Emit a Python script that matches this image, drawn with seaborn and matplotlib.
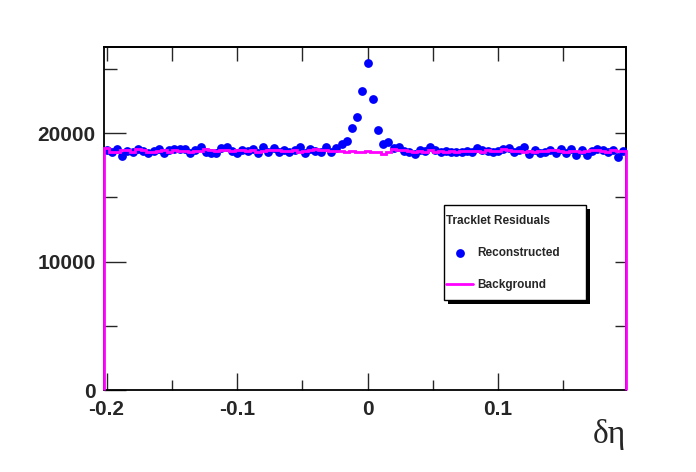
import numpy as np
import matplotlib
matplotlib.use('Agg')
import matplotlib.pyplot as plt
import matplotlib.patches as mpatches
import seaborn as sns

# histogram binning (delta eta)
n_bins = 100
eta_lo, eta_hi = -0.202, 0.198

# counts per bin
reconstructed = [
    18650, 18550, 18760, 18210, 18600, 18550, 18750, 18600, 18420, 18600,
    18750, 18470, 18680, 18750, 18750, 18750, 18420, 18680, 18880, 18550,
    18470, 18470, 18810, 18880, 18600, 18470, 18680, 18600, 18750, 18420,
    18880, 18550, 18810, 18550, 18680, 18550, 18680, 18880, 18470, 18750,
    18600, 18550, 18890, 18500, 18810, 19120, 19400, 20360, 21220, 23270,
    25420, 22650, 20230, 19140, 19300, 18830, 18930, 18600, 18550, 18370,
    18680, 18600, 18880, 18680, 18550, 18600, 18550, 18550, 18490, 18600,
    18490, 18810, 18680, 18600, 18490, 18600, 18750, 18810, 18550, 18680,
    18880, 18340, 18680, 18420, 18550, 18680, 18420, 18750, 18420, 18750,
    18290, 18680, 18290, 18600, 18750, 18680, 18490, 18680, 18160, 18600,
]
background = [
    18800, 18560, 18560, 18680, 18680, 18560, 18760, 18700, 18560, 18560,
    18640, 18700, 18560, 18680, 18640, 18600, 18520, 18600, 18640, 18760,
    18680, 18640, 18660, 18680, 18640, 18700, 18660, 18600, 18660, 18560,
    18600, 18680, 18720, 18680, 18640, 18600, 18680, 18560, 18600, 18680,
    18760, 18700, 18680, 18640, 18600, 18600, 18560, 18600, 18560, 18560,
    18600, 18560, 18560, 18380, 18560, 18760, 18680, 18680, 18600, 18520,
    18600, 18520, 18680, 18560, 18600, 18520, 18600, 18560, 18600, 18640,
    18640, 18600, 18560, 18720, 18600, 18640, 18760, 18680, 18600, 18600,
    18560, 18600, 18520, 18600, 18640, 18680, 18680, 18640, 18520, 18600,
    18600, 18560, 18640, 18680, 18720, 18640, 18560, 18720, 18640, 18640,
]

x_ticks = [-0.2, -0.1, 0, 0.1]
x_ticklabels = ['-0.2', '-0.1', '0', '0.1']
y_ticks = [0, 10000, 20000]

edges = np.linspace(eta_lo, eta_hi, n_bins + 1)
centers = 0.5 * (edges[:-1] + edges[1:])
reco = np.array(reconstructed, dtype=float)

sns.set_style('ticks')
plt.rcParams['font.family'] = ['Liberation Sans', 'DejaVu Sans']

fig = plt.figure(figsize=(6.96, 4.72), dpi=100)
ax = fig.add_axes([104 / 696, 1 - 390 / 472, 522 / 696, 343 / 472])

ax.errorbar(centers, reco, yerr=np.sqrt(reco), fmt='none',
            ecolor='#0000ff', elinewidth=1, zorder=3)
sns.scatterplot(x=centers, y=reco, color='#0000ff', s=40, linewidth=0,
                ax=ax, label='Reconstructed', zorder=4)
ax.stairs(background, edges, baseline=0, color='#ff00ff', lw=2,
          label='Background', zorder=5, clip_on=False)

ax.set_xlim(eta_lo, eta_hi)
ax.set_ylim(0, 26700)

ax.set_xticks(x_ticks)
ax.set_xticklabels(x_ticklabels)
ax.set_xticks([-0.15, -0.05, 0.05, 0.15], minor=True)
ax.set_yticks(y_ticks)
ax.set_yticks([5000, 15000, 25000], minor=True)
ax.tick_params(axis='x', which='major', direction='in', length=12, width=1,
               labelsize=15, pad=7)
ax.tick_params(axis='x', which='minor', direction='in', length=7, width=1)
ax.tick_params(axis='y', which='major', direction='in', length=16, width=1,
               labelsize=15, pad=6)
ax.tick_params(axis='y', which='minor', direction='in', length=9, width=1)
for lab in ax.get_xticklabels() + ax.get_yticklabels():
    lab.set_fontweight('bold')

# ticks on the opposite sides, no labels
top = ax.secondary_xaxis('top')
top.set_xticks([-0.2, -0.15, -0.1, -0.05, 0, 0.05, 0.1, 0.15])
top.set_xticklabels([])
top.tick_params(direction='in', length=10, width=1)
right = ax.secondary_yaxis('right')
right.set_yticks([5000, 10000, 15000, 20000, 25000])
right.set_yticklabels([])
right.tick_params(direction='in', length=8, width=1)

for sp in list(ax.spines.values()) + [top.spines['top'], right.spines['right']]:
    sp.set_linewidth(1.3)
    sp.set_color('black')

ax.set_xlabel('δη', loc='right', fontsize=24,
              family=['Liberation Serif', 'DejaVu Serif'], labelpad=0)
ax.set_ylabel('')

# legend box with ROOT-like solid shadow
bx0, by0, bw, bh = 0.651, 0.262, 0.272, 0.277
shadow = mpatches.Rectangle((bx0 + 4 / 522, by0 - 4 / 343), bw, bh,
                            transform=ax.transAxes, facecolor='black',
                            edgecolor='none', zorder=6)
box = mpatches.Rectangle((bx0, by0), bw, bh, transform=ax.transAxes,
                         facecolor='white', edgecolor='black', lw=1, zorder=7)
ax.add_patch(shadow)
ax.add_patch(box)

handles, labels = ax.get_legend_handles_labels()
order = [labels.index('Reconstructed'), labels.index('Background')]
leg = ax.legend([handles[i] for i in order], [labels[i] for i in order],
                title='Tracklet Residuals', loc='upper left',
                bbox_to_anchor=(bx0 + 1 / 522, by0 + bh - 9 / 343),
                frameon=False,
                prop={'weight': 'bold', 'size': 8.5},
                title_fontproperties={'weight': 'bold', 'size': 8.5},
                alignment='left', handlelength=2.3, handletextpad=0.35,
                labelspacing=1.75, borderpad=0.1, borderaxespad=0)
leg.set_zorder(8)
leg._legend_box.sep = 14

fig.savefig('out.png', dpi=100)
